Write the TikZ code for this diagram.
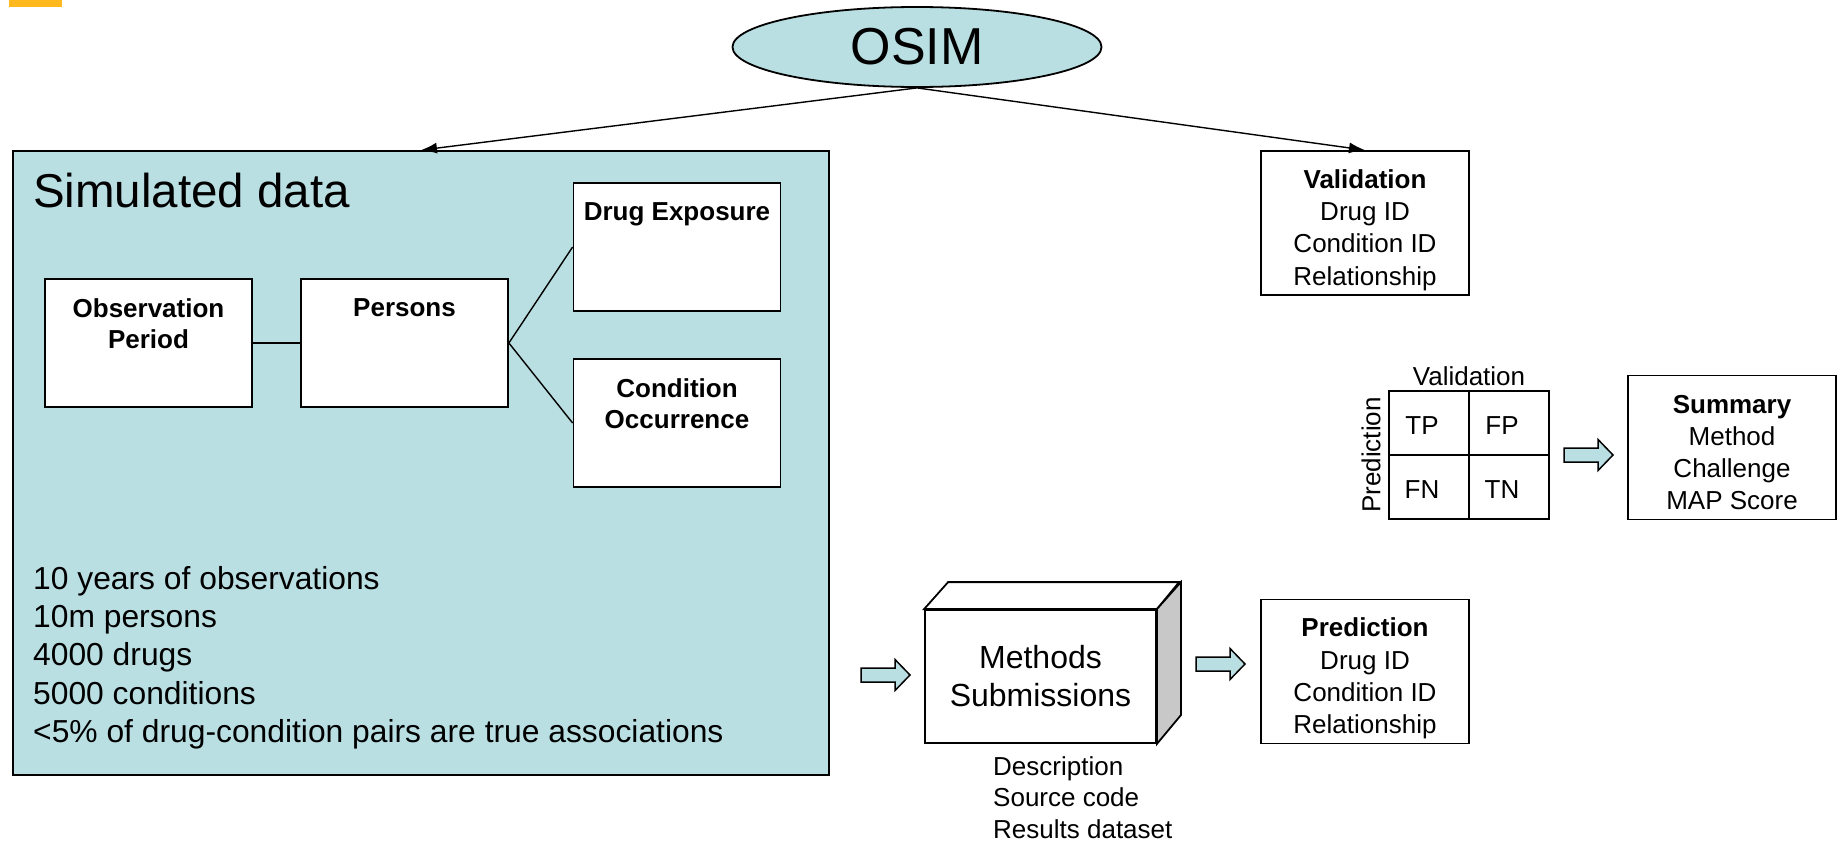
\documentclass[tikz,border=0pt]{standalone}
\usepackage{fontspec}
\setmainfont{Liberation Sans}
\usetikzlibrary{shapes.geometric,arrows.meta}
\definecolor{simblue}{RGB}{185,223,227}
\definecolor{slideorange}{RGB}{255,185,30}
\definecolor{sidegray}{RGB}{200,200,200}

\begin{document}
\begin{tikzpicture}[x=1pt,y=-1pt,
  plain/.style={inner sep=0pt},
  box/.style={draw,line width=1.8pt,fill=white,inner sep=0pt},
  tablebox/.style={box,minimum width=207pt,minimum height=128pt},
  tabletitle/.style={anchor=north,inner sep=0pt,yshift=-20pt,align=center,font=\fontsize{26}{31}\selectfont\bfseries},
  listbox/.style={box,minimum width=208pt,minimum height=144pt},
  listtext/.style={inner sep=0pt,yshift=-7pt,align=center,font=\fontsize{26}{32.2}\selectfont},
  cell/.style={draw,line width=1.8pt,minimum width=80pt,minimum height=64pt},
  celltext/.style={inner sep=0pt,xshift=-7pt,yshift=-3pt,font=\fontsize{26}{32}\selectfont},
  link/.style={line width=1.4pt},
  fatarrow/.pic={\draw[line width=1.5pt,fill=simblue] (0,-7) -- (34,-7) -- (34,-15.5) -- (49,0) -- (34,15.5) -- (34,7) -- (0,7) -- cycle;}
]
\useasboundingbox (0,0) rectangle (1841,841);
\fill[slideorange] (9,0) rectangle (62,7);

% simulator
\node[ellipse,draw,line width=1.8pt,fill=simblue,minimum width=369pt,minimum height=80pt,inner sep=0pt,font=\fontsize{52}{60}\selectfont] (osim) at (917,47) {OSIM};

% simulated data
\node[draw,line width=1.8pt,fill=simblue,minimum width=816pt,minimum height=624pt,inner sep=0pt] (simdata) at (421,463) {};
\node[plain,anchor=west,font=\fontsize{47.5}{54}\selectfont] (simtitle) at (33,191) {Simulated data};

\node[tablebox,label={[tabletitle]north:{Observation\\Period}}] (obs) at (148.5,343) {};
\node[tablebox,label={[tabletitle]north:Persons}] (persons) at (404.5,343) {};
\node[tablebox,label={[tabletitle]north:Drug Exposure}] (drug) at (677,247) {};
\node[tablebox,label={[tabletitle]north:{Condition\\Occurrence}}] (cond) at (677,423) {};
\draw[link] (obs) -- (persons);
\draw[link] (persons.east) -- (drug.west);
\draw[link] (persons.east) -- (cond.west);

\node[plain,anchor=north west,align=left,font=\fontsize{31.8}{38.3}\selectfont] (facts) at (33,566) {10 years of observations\\10m persons\\4000 drugs\\5000 conditions\\<5\% of drug-condition pairs are true associations};

% gold standard and predictions
\node[listbox,label={[listtext]center:{\textbf{Validation}\\Drug ID\\Condition ID\\Relationship}}] (valid) at (1365,223) {};
\node[listbox,label={[listtext]center:{\textbf{Prediction}\\Drug ID\\Condition ID\\Relationship}}] (pred) at (1365,671.5) {};
\node[listbox,label={[listtext,yshift=2pt]center:{\textbf{Summary}\\Method\\Challenge\\MAP Score}}] (summary) at (1732,447.5) {};

\draw[-{Latex[length=16pt,width=11pt]},line width=1.4pt] (osim.south) -- (simdata.north);
\draw[-{Latex[length=16pt,width=11pt]},line width=1.4pt] (osim.south) -- (valid.north);

% methods
\node[box,minimum width=231pt,minimum height=133pt,align=center,font=\fontsize{32}{38}\selectfont] (methods) at (1040.5,676.5) {Methods\\Submissions};
\draw[line width=1.8pt,fill=white] (methods.north west) -- ++(24,-27) -- ++(231,0) -- (methods.north east) -- cycle;
\draw[line width=1.8pt,fill=sidegray] (methods.north east) -- ++(24,-27) -- ++(0,133) -- (methods.south east) -- cycle;
\node[plain,anchor=north west,align=left,font=\fontsize{26}{31.5}\selectfont] (methodsinfo) at (993,756) {Description\\Source code\\Results dataset};

\pic (toMethods) at (861,675) {fatarrow};
\pic (toPred) at (1196,664) {fatarrow};

% confusion matrix
\node[cell,label={[celltext]center:TP}] (tp) at (1429,423) {};
\node[cell,label={[celltext]center:FP}] (fp) at (1509,423) {};
\node[cell,label={[celltext]center:FN}] (fn) at (1429,487) {};
\node[cell,label={[celltext]center:TN}] (tn) at (1509,487) {};
\node[plain,anchor=base,font=\fontsize{26}{32}\selectfont] (vallabel) at (1469,385) {Validation};
\node[plain,rotate=90,font=\fontsize{26}{32}\selectfont] (predlabel) at (1371,455) {Prediction};

\pic (toSummary) at (1564,455) {fatarrow};
\end{tikzpicture}
\end{document}
